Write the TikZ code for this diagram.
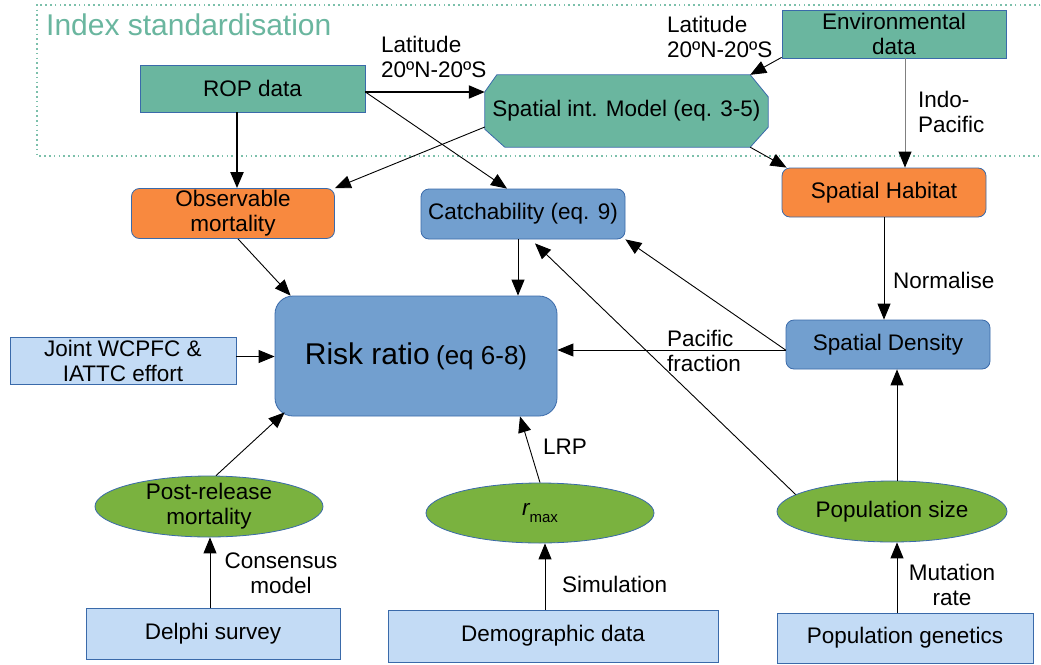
\documentclass[tikz,border=0pt]{standalone}
\usepackage{fontspec}
\setmainfont{Liberation Sans}
\usetikzlibrary{arrows.meta,shapes.geometric,backgrounds}
\definecolor{cTeal}{HTML}{6AB69F}
\definecolor{cFrame}{HTML}{7CC0AB}
\definecolor{cOrange}{HTML}{F8893F}
\definecolor{cBlue}{HTML}{729FCF}
\definecolor{cLight}{HTML}{C3DBF5}
\definecolor{cGreen}{HTML}{7AB23F}
\definecolor{cBorder}{HTML}{3A6AAA}
\begin{document}
\begin{tikzpicture}[x=1pt,y=-1pt,
  font=\fontsize{22.5}{25}\selectfont,
  base/.style={draw=cBorder, line width=0.8pt, inner sep=0pt, align=center},
  tealbox/.style={base, fill=cTeal},
  orangebox/.style={base, fill=cOrange, rounded corners=8pt},
  bluebox/.style={base, fill=cBlue, rounded corners=8pt},
  lightbox/.style={base, fill=cLight},
  oval/.style={base, ellipse, fill=cGreen},
  arr/.style={-{Triangle[length=16pt,width=13pt]}, line width=0.9pt},
  thickarr/.style={arr, line width=2pt},
  lbl/.style={inner sep=0pt, align=left},
  clbl/.style={inner sep=0pt, align=center}]
\useasboundingbox (0,0) rectangle (1041,664);

% frame
\draw[cFrame, line width=1.6pt, dash pattern=on 1.6pt off 3.2pt] (1050,5) -- (37,5) -- (37,156) -- (1050,156);
\node[anchor=base west, text=cTeal, font=\fontsize{30}{32}\selectfont, inner sep=0pt] (title) at (46,35) {Index standardisation};

% nodes
\node[tealbox, minimum width=225pt, minimum height=47pt] (rop) at (252.5,88.5) {ROP data};
\node[minimum width=283pt, minimum height=72pt, inner sep=0pt] (sim) at (626.5,111) {Spatial int. Model (eq. 3-5)};
\begin{scope}[on background layer]
\fill[white] (0,0) rectangle (1041,664);
\draw[base, fill=cTeal] ([xshift=12pt]sim.north west) -- ([xshift=-18pt]sim.north east) -- ([yshift=-22pt]sim.north east) -- ([yshift=20pt]sim.south east) -- ([xshift=-18pt]sim.south east) -- ([xshift=20pt]sim.south west) -- ([yshift=18pt]sim.south west) -- ([yshift=-17pt]sim.north west) -- cycle;
\end{scope}
\node[tealbox, minimum width=224pt, minimum height=48pt] (env) at (894,34) {Environmental\\data};
\node[orangebox, minimum width=203pt, minimum height=50pt] (obs) at (233,213.5) {Observable\\mortality};
\node[bluebox, minimum width=204pt, minimum height=50pt] (catch) at (523,214) {Catchability (eq. 9)};
\node[orangebox, minimum width=204pt, minimum height=49pt] (hab) at (884,192.5) {Spatial Habitat};
\node[bluebox, rounded corners=18pt, minimum width=282pt, minimum height=120pt] (risk) at (416,356) {{\fontsize{30}{32}\selectfont Risk ratio} {\fontsize{26}{28}\selectfont(eq 6-8)}};
\node[bluebox, minimum width=204pt, minimum height=49pt] (dens) at (888,344.5) {Spatial Density};
\node[lightbox, minimum width=226pt, minimum height=47pt] (joint) at (123,360.5) {Joint WCPFC \&\\IATTC effort};
\node[oval, minimum width=228pt, minimum height=61pt, label={[clbl]center:{Post-release\\mortality}}] (post) at (209,506.5) {};
\node[lightbox, minimum width=254pt, minimum height=51pt] (delphi) at (213,633.5) {Delphi survey};
\node[oval, minimum width=228pt, minimum height=60pt] (rmax) at (540,513) {\itshape r\upshape\raisebox{-0.55ex}{\fontsize{15}{15}\selectfont max}};
\node[lightbox, minimum width=330pt, minimum height=52pt] (demo) at (553,636) {Demographic data};
\node[oval, minimum width=230pt, minimum height=61pt] (pop) at (892,511.5) {Population size};
\node[lightbox, minimum width=256pt, minimum height=50pt] (gen) at (905,638) {Population genetics};

% labels
\node[lbl, anchor=north west] (lat1) at (381,36) {Latitude\\20ºN-20ºS};
\node[lbl, anchor=north west] (lat2) at (667,16) {Latitude\\20ºN-20ºS};
\node[lbl, anchor=west] (indo) at (918,112) {Indo-\\Pacific};
\node[lbl, anchor=west] (norm) at (893,280) {Normalise};
\node[lbl, anchor=west] (pacf) at (667,351) {Pacific\\fraction};
\node[clbl] (mut) at (952,585) {Mutation\\rate};
\node[lbl, anchor=west] (simu) at (562,584) {Simulation};
\node[lbl, anchor=west] (lrp) at (543,447) {LRP};
\node[clbl] (cons) at (281,573) {Consensus\\model};

% connectors
\draw[thickarr] ([xshift=-15.5pt]rop.south) -- ([xshift=-15.5pt]rop.south |- obs.north);
\draw[thickarr] ([yshift=-3.5pt]rop.east) coordinate (r1) -- (r1 -| sim.west);
\draw[arr] (r1) -- ([xshift=-16pt]catch.north);
\draw[arr] ([yshift=-16pt]sim.west) -- (obs.north east);
\draw[arr] ([yshift=1pt]env.south west) -- ([xshift=-18pt]sim.north east);
\draw[arr, draw=gray, -{Triangle[length=16pt,width=13pt,color=black]}] ([xshift=11pt]env.south) -- ([xshift=11pt]env.south |- hab.north);
\draw[arr] ([xshift=-18pt]sim.south east) -- ([xshift=5pt]hab.north west);
\draw[arr] ([xshift=5pt]obs.south) -- ([xshift=16pt]risk.north west);
\draw[arr] ([xshift=-5pt]catch.south) -- ([xshift=-5pt]catch.south |- risk.north);
\draw[arr] (hab.south) -- (hab.south |- dens.north);
\draw[arr] ([yshift=-5.5pt]dens.west) coordinate (d1) -- (d1 -| risk.east);
\draw[arr] (d1) -- (catch.south east);
\draw[arr] (pop.170) -- ([xshift=12pt,yshift=-4pt]catch.south);
\draw[arr] ([xshift=5pt]pop.north) -- ([xshift=9pt]dens.south);
\draw[arr] ([xshift=-8pt]gen.north) -- ([xshift=5pt]pop.south);
\draw[arr] ([xshift=-8pt]demo.north) -- ([xshift=5pt]rmax.south);
\draw[arr] (rmax.north) -- ([xshift=104pt]risk.south);
\draw[arr] ([xshift=-3pt]delphi.north) -- ([xshift=1pt]post.south);
\draw[arr] ([xshift=7pt]post.north) -- ([xshift=10pt,yshift=4pt]risk.south west);
\draw[arr] ([yshift=4pt]joint.east) coordinate (j1) -- (j1 -| risk.west);
\end{tikzpicture}
\end{document}
